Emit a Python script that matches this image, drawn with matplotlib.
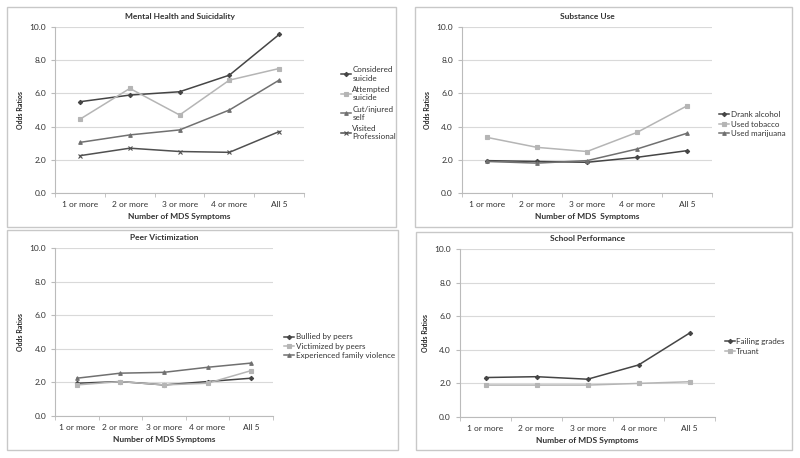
import numpy as np
import matplotlib
matplotlib.use("Agg")
import matplotlib.pyplot as plt
from matplotlib.patches import Rectangle

plt.rcParams['font.family'] = ['Lato', 'DejaVu Sans']

cats = ["1 or more", "2 or more", "3 or more", "4 or more", "All 5"]

# Mental health and suicidality
considered = [5.5, 5.9, 6.1, 7.1, 9.55]
attempted = [4.45, 6.3, 4.7, 6.8, 7.5]
cut_self = [3.05, 3.5, 3.8, 5.0, 6.8]
visited = [2.25, 2.7, 2.5, 2.45, 3.7]

# Substance use
alcohol = [1.95, 1.9, 1.85, 2.15, 2.55]
tobacco = [3.35, 2.75, 2.5, 3.65, 5.25]
marijuana = [1.9, 1.8, 1.95, 2.65, 3.6]

# Peer victimization
bullied = [1.95, 2.05, 1.85, 2.05, 2.25]
victimized = [1.85, 2.05, 1.85, 1.95, 2.7]
family = [2.25, 2.55, 2.6, 2.9, 3.15]

# School performance
failing = [2.35, 2.4, 2.25, 3.1, 5.0]
truant = [1.9, 1.9, 1.9, 2.0, 2.1]

styles = [("#454545", "D", 2.2), ("#b5b5b5", "s", 2.4),
          ("#707070", "^", 2.6), ("#505050", "x", 2.6)]

panels = [
    ("Mental Health and Suicidality", "Number of MDS Symptoms",
     [considered, attempted, cut_self, visited],
     ["Considered\nsuicide", "Attempted\nsuicide", "Cut/injured\nself", "Visited\nProfessional"],
     [0.069, 0.5786, 0.311, 0.3624], (1.12, 0.54), 0.55),
    ("Substance Use", "Number of MDS  Symptoms",
     [alcohol, tobacco, marijuana],
     ["Drank alcohol", "Used tobacco", "Used marijuana"],
     [0.5775, 0.5786, 0.3125, 0.3624], (1.0, 0.415), 0.3),
    ("Peer Victimization", "Number of MDS Symptoms",
     [bullied, victimized, family],
     ["Bullied by peers", "Victimized by peers", "Experienced family violence"],
     [0.069, 0.0917, 0.272, 0.3668], (1.02, 0.415), 0.3),
    ("School Performance", "Number of MDS Symptoms",
     [failing, truant],
     ["Failing grades", "Truant"],
     [0.575, 0.0895, 0.319, 0.3668], (1.01, 0.42), 0.3),
]

fig = plt.figure(figsize=(8, 4.58), dpi=100)

# panel frames
for x0, y0, x1, y1 in [(7, 7, 396, 227), (415, 7, 792, 227),
                       (7, 230, 398, 450), (416, 232, 792, 450)]:
    fig.patches.append(Rectangle((x0 / 800, 1 - y1 / 458), (x1 - x0) / 800,
                                 (y1 - y0) / 458, transform=fig.transFigure,
                                 fill=False, edgecolor="#c8c8c8", lw=1.0))

x = np.arange(len(cats))
for title, xlab, series, labels, rect, lpos, lsp in panels:
    ax = fig.add_axes(rect)
    for s, lab, (c, m, ms) in zip(series, labels, styles):
        ax.plot(x, s, color=c, marker=m, ms=ms, lw=1.1, mew=0.8, label=lab)
    ax.set_xlim(-0.5, 4.5)
    ax.set_ylim(0, 10)
    ax.set_yticks(np.arange(0, 10.1, 2))
    ax.set_yticklabels([f"{v:.1f}" for v in np.arange(0, 10.1, 2)])
    ax.set_xticks(x)
    ax.set_xticklabels(cats)
    ax.set_xticks(np.arange(-0.5, 4.6, 1), minor=True)
    ax.tick_params(axis="x", which="major", length=0, labelsize=6, colors="#333333", pad=6)
    ax.tick_params(axis="x", which="minor", length=3, color="#bbbbbb")
    ax.tick_params(axis="y", length=3, color="#bbbbbb", labelsize=6, labelcolor="#333333")
    ax.grid(axis="y", color="#d9d9d9", lw=0.8)
    ax.set_axisbelow(True)
    for sp in ["top", "right"]:
        ax.spines[sp].set_visible(False)
    for sp in ["left", "bottom"]:
        ax.spines[sp].set_color("#bbbbbb")
        ax.spines[sp].set_linewidth(0.8)
    ax.set_title(title, fontsize=6, fontweight="bold", color="#333333", pad=6)
    ax.set_xlabel(xlab, fontsize=6, fontweight="bold", color="#333333", labelpad=3)
    ax.set_ylabel("Odds Ratios", fontsize=5, fontweight="bold", color="#222222", labelpad=4)
    ax.legend(loc="center left", bbox_to_anchor=lpos, frameon=False, fontsize=5.8,
              handlelength=1.2, handletextpad=0.2, labelspacing=lsp,
              labelcolor="#333333")

fig.savefig("out.png", dpi=100, facecolor="white")
